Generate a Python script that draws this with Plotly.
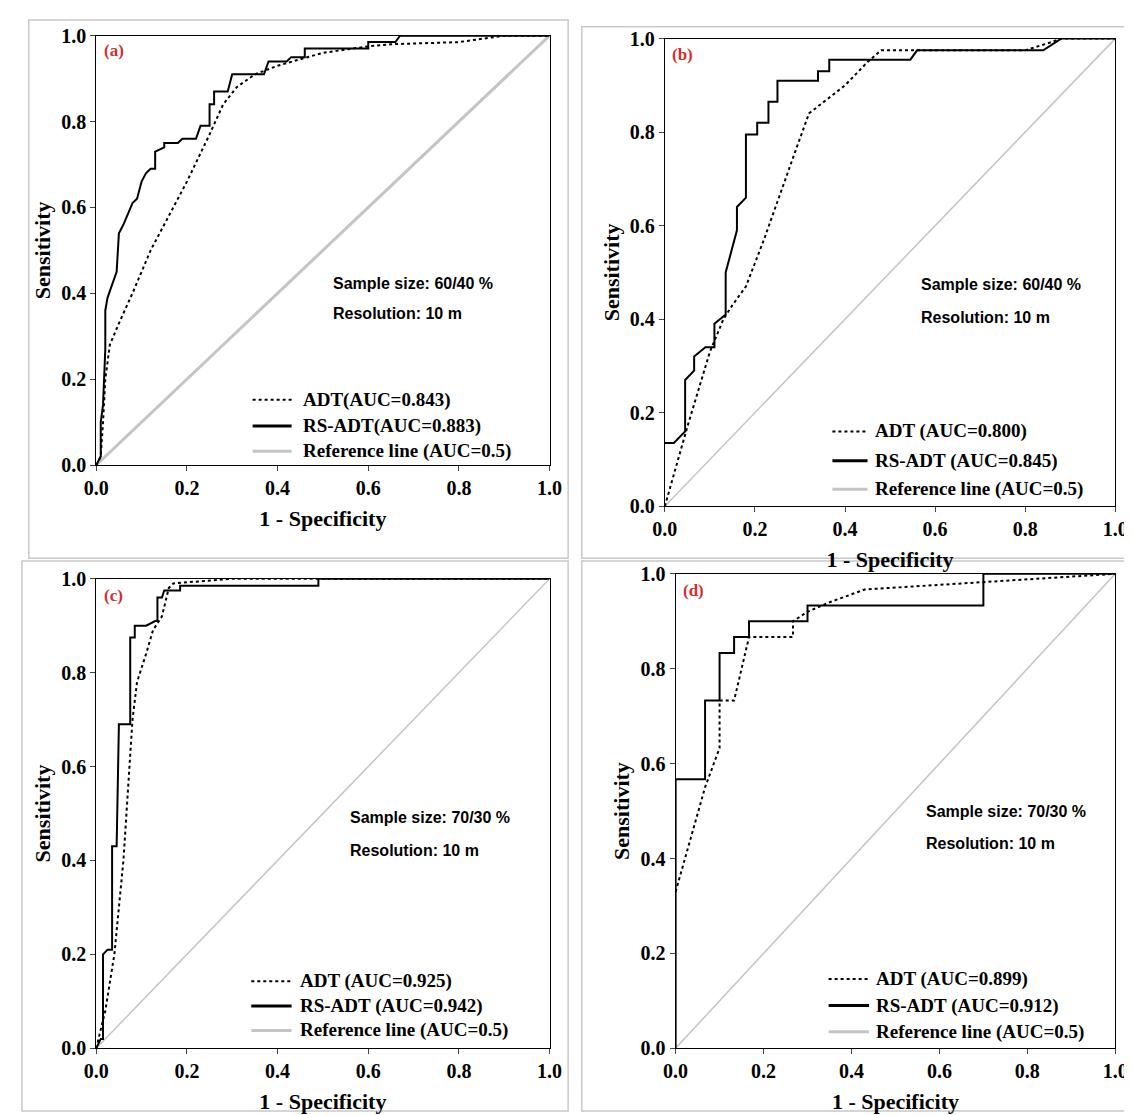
import plotly.graph_objects as go

# ---- data (x = 1 - specificity, y = sensitivity) ----
a_rs_x = [0, 0.01, 0.01, 0.015, 0.02, 0.02, 0.025, 0.035, 0.045, 0.05, 0.06, 0.08, 0.09, 0.1, 0.11, 0.12, 0.13, 0.13, 0.15, 0.15, 0.18, 0.19, 0.22, 0.23, 0.25, 0.25, 0.26, 0.26, 0.29, 0.3, 0.37, 0.38, 0.42, 0.43, 0.46, 0.46, 0.6, 0.6, 0.66, 0.67, 1]
a_rs_y = [0, 0.02, 0.1, 0.14, 0.27, 0.36, 0.39, 0.42, 0.45, 0.54, 0.56, 0.61, 0.62, 0.66, 0.68, 0.69, 0.69, 0.73, 0.74, 0.75, 0.75, 0.76, 0.76, 0.79, 0.79, 0.84, 0.84, 0.87, 0.87, 0.91, 0.91, 0.94, 0.94, 0.95, 0.95, 0.97, 0.97, 0.985, 0.985, 1.0, 1]
a_adt_x = [0, 0.01, 0.015, 0.02, 0.03, 0.05, 0.08, 0.12, 0.16, 0.2, 0.25, 0.28, 0.31, 0.35, 0.4, 0.5, 0.6, 0.65, 0.8, 0.9, 1]
a_adt_y = [0, 0.02, 0.1, 0.2, 0.28, 0.33, 0.4, 0.5, 0.58, 0.66, 0.77, 0.84, 0.88, 0.91, 0.93, 0.96, 0.975, 0.98, 0.985, 1.0, 1]

b_rs_x = [0, 0.02, 0.045, 0.045, 0.065, 0.065, 0.09, 0.11, 0.11, 0.135, 0.135, 0.16, 0.16, 0.18, 0.18, 0.205, 0.205, 0.23, 0.23, 0.25, 0.25, 0.34, 0.34, 0.365, 0.365, 0.545, 0.56, 0.84, 0.88, 1]
b_rs_y = [0.135, 0.135, 0.16, 0.27, 0.29, 0.32, 0.34, 0.34, 0.39, 0.41, 0.5, 0.59, 0.64, 0.66, 0.795, 0.795, 0.82, 0.82, 0.865, 0.865, 0.91, 0.91, 0.93, 0.93, 0.955, 0.955, 0.975, 0.975, 1.0, 1]
b_adt_x = [0, 0.05, 0.1, 0.13, 0.15, 0.18, 0.22, 0.26, 0.29, 0.32, 0.36, 0.4, 0.45, 0.48, 0.55, 0.8, 0.85, 0.88, 1]
b_adt_y = [0, 0.17, 0.33, 0.4, 0.43, 0.47, 0.57, 0.68, 0.76, 0.84, 0.87, 0.9, 0.95, 0.975, 0.975, 0.975, 0.99, 1.0, 1]

c_rs_x = [0, 0.01, 0.015, 0.015, 0.025, 0.035, 0.035, 0.045, 0.05, 0.075, 0.075, 0.085, 0.085, 0.11, 0.13, 0.135, 0.135, 0.145, 0.15, 0.185, 0.185, 0.49, 0.49, 1]
c_rs_y = [0, 0.02, 0.02, 0.2, 0.21, 0.21, 0.43, 0.43, 0.69, 0.69, 0.875, 0.875, 0.9, 0.9, 0.91, 0.91, 0.96, 0.96, 0.975, 0.975, 0.985, 0.985, 1.0, 1]
c_adt_x = [0, 0.02, 0.04, 0.06, 0.08, 0.09, 0.11, 0.125, 0.145, 0.16, 0.17, 0.3, 1]
c_adt_y = [0, 0.08, 0.2, 0.4, 0.7, 0.78, 0.84, 0.89, 0.92, 0.98, 0.99, 1.0, 1]

d_rs_x = [0, 0, 0.067, 0.067, 0.1, 0.1, 0.133, 0.133, 0.167, 0.167, 0.3, 0.3, 0.7, 0.7, 1]
d_rs_y = [0, 0.567, 0.567, 0.733, 0.733, 0.833, 0.833, 0.867, 0.867, 0.9, 0.9, 0.933, 0.933, 1.0, 1]
d_adt_x = [0, 0.067, 0.1, 0.1, 0.133, 0.167, 0.267, 0.267, 0.3, 0.35, 0.43, 0.7, 1]
d_adt_y = [0.33, 0.55, 0.633, 0.733, 0.733, 0.867, 0.867, 0.9, 0.92, 0.94, 0.967, 0.983, 1]

tags = ["(a)", "(b)", "(c)", "(d)"]
adt_labels = ["ADT(AUC=0.843)", "ADT (AUC=0.800)", "ADT (AUC=0.925)", "ADT (AUC=0.899)"]
rs_labels = ["RS-ADT(AUC=0.883)", "RS-ADT (AUC=0.845)", "RS-ADT (AUC=0.942)", "RS-ADT (AUC=0.912)"]
ref_label = "Reference line (AUC=0.5)"
sample_sizes = ["Sample size: 60/40 %", "Sample size: 60/40 %", "Sample size: 70/30 %", "Sample size: 70/30 %"]
resolution = "Resolution: 10 m"

rs_x = [a_rs_x, b_rs_x, c_rs_x, d_rs_x]
rs_y = [a_rs_y, b_rs_y, c_rs_y, d_rs_y]
adt_x = [a_adt_x, b_adt_x, c_adt_x, d_adt_x]
adt_y = [a_adt_y, b_adt_y, c_adt_y, d_adt_y]

# layout per panel: axis domains, legend positions (in axis-domain units), text positions
W, H = 1132, 1115
px_boxes = [(77, 541, 17, 455), (659, 1120, 20, 497), (77, 541, 571, 1050), (670, 1120, 566, 1050)]
leg_x = [(0.345, 0.431, 0.451), (0.372, 0.45, 0.462), (0.342, 0.431, 0.445), (0.348, 0.44, 0.452)]
leg_y = [(0.152, 0.091, 0.032), (0.160, 0.097, 0.036), (0.143, 0.09, 0.038), (0.146, 0.09, 0.035)]
txt_pos = [(0.518, 0.423, 0.354), (0.565, 0.475, 0.403), (0.556, 0.492, 0.421), (0.565, 0.499, 0.431)]
frames = [(8, 560, 1, 550), (574, 1131, 8, 550), (1, 560, 553, 1114), (574, 1131, 553, 1114)]

serif = "Liberation Serif, Times New Roman, serif"
sans = "Liberation Sans, Arial, sans-serif"

fig = go.Figure()
shapes, annos = [], []
for i in range(4):
    n = "" if i == 0 else str(i + 1)
    xa, ya = "x" + n, "y" + n
    x0, x1, y0, y1 = px_boxes[i]
    axis_common = dict(range=[0, 1], tickvals=[0, 0.2, 0.4, 0.6, 0.8, 1.0], tickformat=".1f",
                       showgrid=False, zeroline=False, showline=True, mirror=True,
                       linecolor="black", linewidth=1, ticks="outside", ticklen=5,
                       tickfont=dict(family=serif, size=20, color="black", weight="bold"))
    fig.update_layout(**{
        "xaxis" + n: dict(axis_common, domain=[x0 / W, x1 / W], anchor=ya,
                          title=dict(text="<b>1 - Specificity</b>", font=dict(family=serif, size=22, color="black"), standoff=12)),
        "yaxis" + n: dict(axis_common, domain=[1 - y1 / H, 1 - y0 / H], anchor=xa,
                          title=dict(text="<b>Sensitivity</b>", font=dict(family=serif, size=22, color="black"), standoff=4)),
    })
    fig.add_trace(go.Scatter(x=[0, 1], y=[0, 1], mode="lines", xaxis=xa, yaxis=ya,
                             line=dict(color="#c4c4c4", width=3 if i == 0 else 1.5), showlegend=False))
    fig.add_trace(go.Scatter(x=adt_x[i], y=adt_y[i], mode="lines", xaxis=xa, yaxis=ya,
                             line=dict(color="black", width=2, dash="dot"), showlegend=False))
    fig.add_trace(go.Scatter(x=rs_x[i], y=rs_y[i], mode="lines", xaxis=xa, yaxis=ya,
                             line=dict(color="black", width=2), showlegend=False))

    xr, yr = xa + " domain", ya + " domain"
    lx0, lx1, tx = leg_x[i]
    styles = [dict(color="black", width=2, dash="dot"), dict(color="black", width=3), dict(color="#c4c4c4", width=3)]
    labels = [adt_labels[i], rs_labels[i], ref_label]
    for ly, st, lab in zip(leg_y[i], styles, labels):
        shapes.append(dict(type="line", xref=xr, yref=yr, x0=lx0, x1=lx1, y0=ly, y1=ly, line=st))
        annos.append(dict(xref=xr, yref=yr, x=tx, y=ly, text="<b>" + lab + "</b>", showarrow=False,
                          xanchor="left", yanchor="middle", font=dict(family=serif, size=19, color="black")))
    sx, sy1, sy2 = txt_pos[i]
    annos.append(dict(xref=xr, yref=yr, x=sx, y=sy1, text="<b>" + sample_sizes[i] + "</b>", showarrow=False,
                      xanchor="left", yanchor="middle", font=dict(family=sans, size=16, color="black")))
    annos.append(dict(xref=xr, yref=yr, x=sx, y=sy2, text="<b>" + resolution + "</b>", showarrow=False,
                      xanchor="left", yanchor="middle", font=dict(family=sans, size=16, color="black")))
    annos.append(dict(xref=xr, yref=yr, x=0.012, y=0.965, text="<b>" + tags[i] + "</b>", showarrow=False,
                      xanchor="left", yanchor="middle", font=dict(family=serif, size=17, color="#d03030")))
    fx0, fx1, fy0, fy1 = frames[i]
    shapes.append(dict(type="rect", xref="paper", yref="paper", x0=fx0 / W, x1=fx1 / W,
                       y0=1 - fy1 / H, y1=1 - fy0 / H, line=dict(color="#c8c8c8", width=1.5), layer="below"))

fig.update_layout(width=W, height=H, margin=dict(l=0, r=0, t=0, b=0),
                  plot_bgcolor="white", paper_bgcolor="white", shapes=shapes, annotations=annos)
fig.write_html("out.html")
